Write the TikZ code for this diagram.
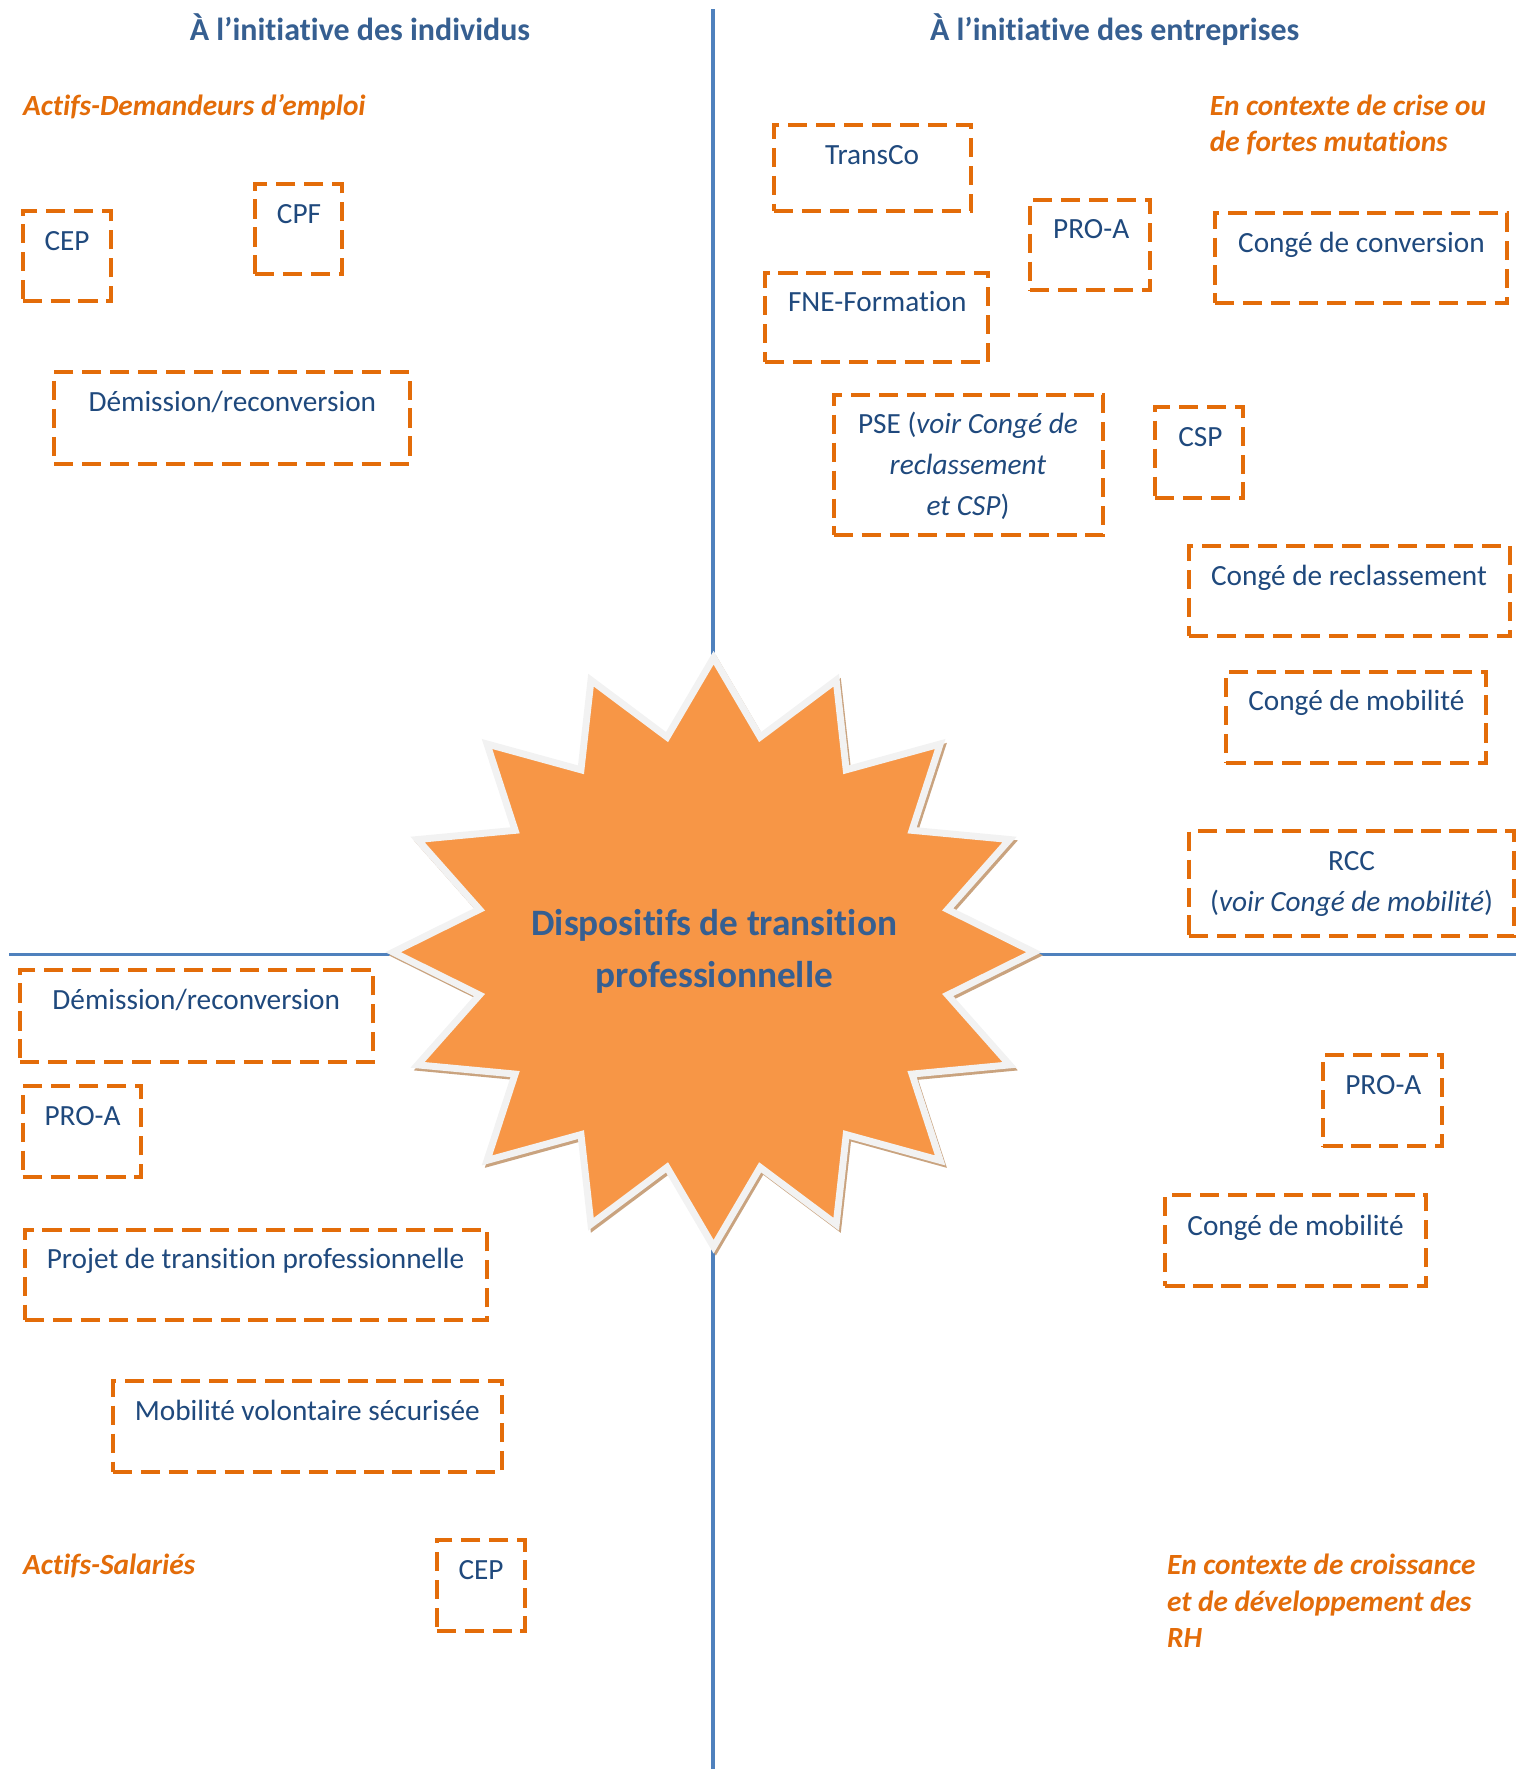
\documentclass[tikz,border=0pt]{standalone}
\usepackage{fontspec}
\setmainfont{Carlito}[Ligatures=NoCommon]
\definecolor{axisblue}{HTML}{4F81BD}
\definecolor{boxorange}{HTML}{E36C09}
\definecolor{txtblue}{HTML}{1F497D}
\definecolor{headblue}{HTML}{365F91}
\definecolor{starfill}{HTML}{F79646}
\definecolor{starline}{HTML}{F2F2F2}
\definecolor{starshadow}{HTML}{C9A37F}
\tikzset{
  dbox/.style={draw=boxorange, line width=1.5pt, dash pattern=on 7.2pt off 3.3pt, rectangle, inner sep=0pt, outer sep=0pt, anchor=north west},
  btxt/.style={text=txtblue, font=\fontsize{11}{15.7}\selectfont, inner sep=0pt, anchor=base west},
  ctxt/.style={text=txtblue, font=\fontsize{11}{15.7}\selectfont, inner sep=0pt, anchor=base},
  olabel/.style={text=boxorange, font=\fontsize{11}{13.6}\selectfont\bfseries\itshape, inner sep=0pt, anchor=base west},
  head/.style={text=headblue, font=\fontsize{12}{14}\selectfont\bfseries, inner sep=0pt, anchor=base},
  stxt/.style={text=headblue, font=\fontsize{14}{19.5}\selectfont\bfseries, inner sep=0pt, anchor=base},
  axis/.style={draw=axisblue, line width=1.3pt}
}
\newcommand{\dbx}[5]{\node[dbox, minimum width={(#4-#2)*0.4237pt}, minimum height={(#5-#3)*0.4237pt}] (#1) at (#2,#3) {};}
\begin{document}
\begin{tikzpicture}[x=0.4237pt, y=-0.4237pt]
\useasboundingbox (0,0) rectangle (1344,1568);
% axes
\coordinate (vtop) at (632,8);
\coordinate (vbot) at (632,1568);
\coordinate (hleft) at (8,846);
\coordinate (hright) at (1344,846);
\draw[axis] (vtop) -- (vbot);
\draw[axis] (hleft) -- (hright);
% star
\def\cx{632.5}\def\cy{844}\def\rx{284}\def\ry{261}\def\rin{0.745}
\draw[starshadow, line width=2.2pt, line join=miter, xshift=2*0.4237pt, yshift=-2.8*0.4237pt]
  (\cx,\cy-\ry) \foreach \i in {1,...,31} {
    -- ({\cx+\rx*(1-(1-\rin)*mod(\i,2))*cos(90-\i*11.25)}, {\cy-\ry*(1-(1-\rin)*mod(\i,2))*sin(90-\i*11.25)}) } -- cycle;
\draw[fill=starfill, draw=starline, line width=2.6pt, line join=miter]
  (\cx,\cy-\ry) \foreach \i in {1,...,31} {
    -- ({\cx+\rx*(1-(1-\rin)*mod(\i,2))*cos(90-\i*11.25)}, {\cy-\ry*(1-(1-\rin)*mod(\i,2))*sin(90-\i*11.25)}) } -- cycle;
\node[stxt] (star1) at (633,829) {Dispositifs de transition};
\node[stxt] (star2) at (633,875) {professionnelle};
% headings
\node[head] (hind) at (319,36) {À l’initiative des individus};
\node[head] (hent) at (988,36) {À l’initiative des entreprises};
% orange labels
\node[olabel] (l1) at (20,102) {Actifs-Demandeurs d’emploi};
\node[olabel] (l2a) at (1072,102) {En contexte de crise ou};
\node[olabel] (l2b) at (1072,134) {de fortes mutations};
\node[olabel] (l3) at (20,1396) {Actifs-Salariés};
\node[olabel] (l4a) at (1034,1396) {En contexte de croissance};
\node[olabel] (l4b) at (1034,1428) {et de développement des};
\node[olabel] (l4c) at (1034,1460) {RH};
% boxes top-left
\dbx{cepA}{20}{187}{98}{267}
\node[btxt] (tcepA) at (39,222) {CEP};
\dbx{cpf}{226}{163}{303}{243}
\node[btxt] (tcpf) at (245,198) {CPF};
\dbx{demA}{48}{330}{363}{411}
\node[btxt] (tdemA) at (78,365) {Démission/reconversion};
% boxes top-right
\dbx{transco}{686}{111}{861}{187}
\node[ctxt] (ttransco) at (773,146) {TransCo};
\dbx{proaA}{913}{177}{1019}{257}
\node[btxt] (tproaA) at (933,211) {PRO-A};
\dbx{conv}{1077}{189}{1336}{269}
\node[btxt] (tconv) at (1097,224) {Congé de conversion};
\dbx{fne}{678}{242}{876}{321}
\node[btxt] (tfne) at (698,276) {FNE-Formation};
\dbx{pse}{739}{350}{978}{474}
\node[ctxt] (tpse1) at (858,384) {PSE (\textit{voir Congé de}};
\node[ctxt] (tpse2) at (858,421) {\textit{reclassement}};
\node[ctxt] (tpse3) at (858,457) {\textit{et CSP})};
\dbx{csp}{1024}{361}{1102}{441}
\node[btxt] (tcsp) at (1044,396) {CSP};
\dbx{recl}{1054}{484}{1338}{564}
\node[btxt] (trecl) at (1073,519) {Congé de reclassement};
\dbx{mobA}{1087}{596}{1317}{676}
\node[btxt] (tmobA) at (1106,630) {Congé de mobilité};
\dbx{rcc}{1054}{737}{1342}{830}
\node[ctxt] (trcc1) at (1198,772) {RCC};
\node[ctxt] (trcc2) at (1198,808) {(\textit{voir Congé de mobilité})};
% boxes bottom-left
\dbx{demB}{18}{860}{331}{941}
\node[btxt] (tdemB) at (46,895) {Démission/reconversion};
\dbx{proaB}{20}{963}{125}{1043}
\node[btxt] (tproaB) at (39,998) {PRO-A};
\dbx{ptp}{22}{1090}{432}{1170}
\node[btxt] (tptp) at (41,1124) {Projet de transition professionnelle};
\dbx{mvs}{100}{1224}{445}{1305}
\node[btxt] (tmvs) at (119,1259) {Mobilité volontaire sécurisée};
\dbx{cepB}{387}{1365}{465}{1446}
\node[btxt] (tcepB) at (406,1400) {CEP};
% boxes bottom-right
\dbx{proaC}{1173}{935}{1278}{1016}
\node[btxt] (tproaC) at (1192,970) {PRO-A};
\dbx{mobB}{1033}{1059}{1264}{1140}
\node[btxt] (tmobB) at (1052,1095) {Congé de mobilité};
\end{tikzpicture}
\end{document}
